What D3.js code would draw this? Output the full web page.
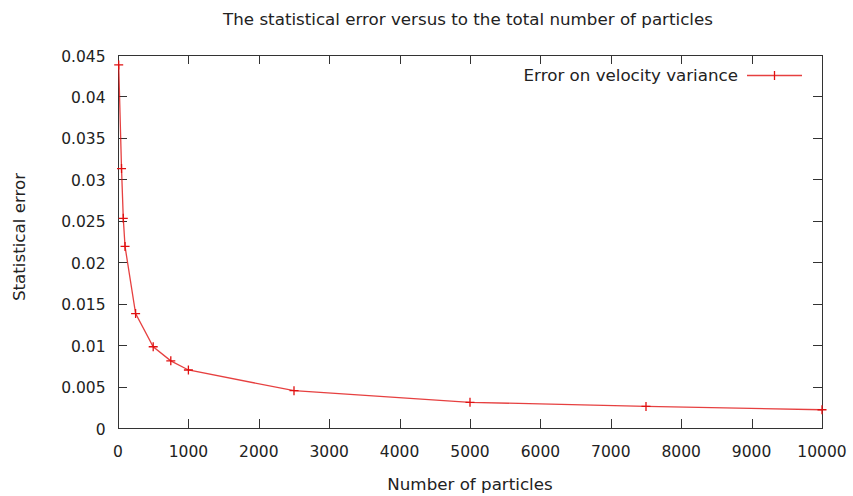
<!DOCTYPE html>
<html>
<head>
<meta charset="utf-8">
<script src="https://cdn.jsdelivr.net/npm/d3@7"></script>
<style>
html,body{margin:0;padding:0;background:#fff;}
svg text{font-family:"DejaVu Sans",sans-serif;fill:#222;}
</style>
</head>
<body>
<svg id="chart" width="853" height="496"></svg>
<script>
const particles = [10, 50, 75, 100, 250, 500, 750, 1000, 2500, 5000, 7500, 10000];
const errors = [0.0438, 0.0313, 0.0253, 0.0219, 0.0138, 0.0098, 0.0081, 0.0070, 0.0045, 0.0031, 0.0026, 0.0022];
const xTicks = [0,1000,2000,3000,4000,5000,6000,7000,8000,9000,10000];
const yTicks = [0,0.005,0.01,0.015,0.02,0.025,0.03,0.035,0.04,0.045];
const titleText = "The statistical error versus to the total number of particles";
const xLabel = "Number of particles";
const yLabel = "Statistical error";
const seriesName = "Error on velocity variance";

const svg = d3.select("#chart");
const L = 118, R = 822, T = 55, B = 428;
const x = d3.scaleLinear().domain([0,10000]).range([L,R]);
const y = d3.scaleLinear().domain([0,0.045]).range([B,T]);
const tk = 9;
const axisColor = "#333";
const red = "#e01010";
const tickFont = 15.5, labelFont = 16.7;

const g = svg.append("g");
xTicks.forEach(v=>{
  const px = Math.round(x(v))+0.5;
  g.append("line").attr("x1",px).attr("x2",px).attr("y1",B).attr("y2",B-tk).attr("stroke",axisColor);
  g.append("line").attr("x1",px).attr("x2",px).attr("y1",T).attr("y2",T+tk).attr("stroke",axisColor);
  g.append("text").attr("x",x(v)).attr("y",B+28.5).attr("text-anchor","middle").attr("font-size",tickFont).text(v);
});
yTicks.forEach(v=>{
  const py = Math.round(y(v))+0.5;
  g.append("line").attr("x1",L).attr("x2",L+tk).attr("y1",py).attr("y2",py).attr("stroke",axisColor);
  g.append("line").attr("x1",R).attr("x2",R-tk).attr("y1",py).attr("y2",py).attr("stroke",axisColor);
  g.append("text").attr("x",L-12.5).attr("y",y(v)+6.5).attr("text-anchor","end").attr("font-size",tickFont).text(d3.format("")(v));
});
svg.append("rect").attr("x",L+0.5).attr("y",T+0.5).attr("width",R-L).attr("height",B-T)
  .attr("fill","none").attr("stroke",axisColor);

const pts = particles.map((p,i)=>[p,errors[i]]);
svg.append("path").datum(pts)
  .attr("d", d3.line().x(d=>x(d[0])).y(d=>y(d[1])))
  .attr("fill","none").attr("stroke",red).attr("stroke-width",1.3).attr("stroke-opacity",0.8);
const s = 4.5;
const mk = svg.append("g");
pts.forEach(d=>{
  const cx = x(d[0]), cy = y(d[1]);
  mk.append("path").attr("d",`M${cx-s},${cy}H${cx+s}M${cx},${cy-s}V${cy+s}`)
    .attr("stroke",red).attr("stroke-width",1.3);
});

svg.append("text").attr("x",738).attr("y",81).attr("text-anchor","end").attr("font-size",labelFont).text(seriesName);
svg.append("line").attr("x1",747).attr("x2",802).attr("y1",75.5).attr("y2",75.5).attr("stroke",red).attr("stroke-width",1.3).attr("stroke-opacity",0.8);
svg.append("path").attr("d",`M774.5,${75.5-s}V${75.5+s}`).attr("stroke",red).attr("stroke-width",1.3);

svg.append("text").attr("x",468).attr("y",25).attr("text-anchor","middle").attr("font-size",labelFont).text(titleText);
svg.append("text").attr("x",470).attr("y",490).attr("text-anchor","middle").attr("font-size",labelFont).text(xLabel);
svg.append("text").attr("transform","translate(25,237) rotate(-90)").attr("text-anchor","middle").attr("font-size",labelFont).text(yLabel);
</script>
</body>
</html>
